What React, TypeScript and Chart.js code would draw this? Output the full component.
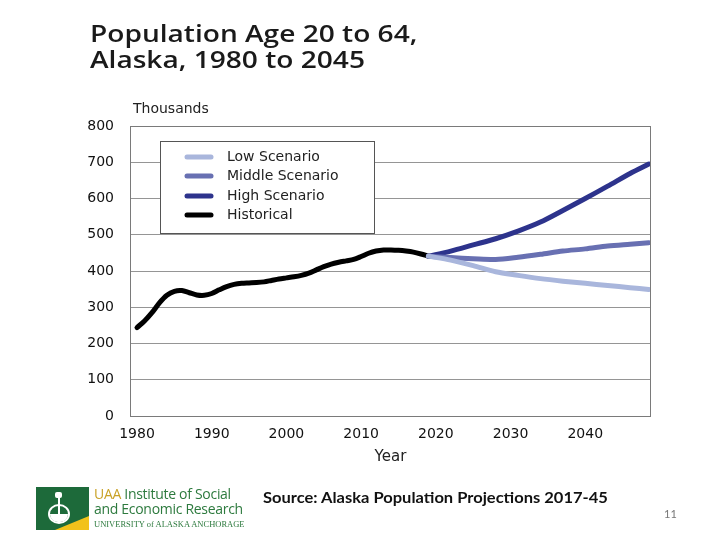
import React, { useEffect, useRef } from "react";
import { Chart, registerables } from "chart.js";

Chart.register(...registerables);

const titleLines = ["Population Age 20 to 64,", "Alaska, 1980 to 2045"];
const yAxisLabel = "Thousands";
const xAxisLabel = "Year";
const xTickValues = [1980, 1990, 2000, 2010, 2020, 2030, 2040];
const seriesNames = ["Low Scenario", "Middle Scenario", "High Scenario", "Historical"];
const seriesColors = ["#a9b6dc", "#6870b2", "#2d338c", "#000000"];

const histYears = [1980, 1981, 1982, 1983, 1984, 1985, 1986, 1987, 1988, 1989, 1990, 1991, 1992, 1993, 1994, 1995, 1996, 1997, 1998, 1999, 2000, 2001, 2002, 2003, 2004, 2005, 2006, 2007, 2008, 2009, 2010, 2011, 2012, 2013, 2014, 2015, 2016, 2017, 2018, 2019];
const histValues = [244, 262, 285, 312, 333, 344, 346, 340, 334, 333, 338, 348, 357, 363, 366, 367, 368, 370, 374, 378, 381, 384, 388, 394, 403, 412, 419, 424, 428, 432, 440, 449, 455, 458, 458, 457, 455, 452, 447, 441];

const projYears = [2019, 2022, 2025, 2028, 2031, 2034, 2037, 2040, 2043, 2046, 2048.5];
const lowValues = [441, 430, 415, 398, 388, 379, 372, 366, 360, 354, 349];
const middleValues = [441, 437, 434, 432, 438, 446, 455, 461, 469, 474, 478];
const highValues = [441, 455, 472, 489, 510, 535, 567, 600, 634, 669, 695];

const chartFont = "'DejaVu Sans', 'Liberation Sans', sans-serif";

const pts = (xs: number[], ys: number[]) => xs.map((x, i) => ({ x, y: ys[i] }));

const framePlugin = {
  id: "frameAndLegend",
  afterDatasetsDraw(chart: any) {
    const { ctx, chartArea } = chart;
    ctx.save();
    ctx.strokeStyle = "#7a7a7a";
    ctx.lineWidth = 1;
    ctx.strokeRect(chartArea.left + 0.5, chartArea.top + 0.5, chartArea.right - chartArea.left - 1, chartArea.bottom - chartArea.top);
    // legend box
    const bx = 160, by = 141, bw = 214, bh = 92;
    ctx.fillStyle = "#ffffff";
    ctx.fillRect(bx, by, bw, bh);
    ctx.strokeStyle = "#555555";
    ctx.strokeRect(bx + 0.5, by + 0.5, bw, bh);
    const rows = [157, 176, 196, 215];
    ctx.font = `14px ${chartFont}`;
    ctx.textBaseline = "middle";
    ctx.textAlign = "left";
    seriesNames.forEach((name, i) => {
      ctx.strokeStyle = seriesColors[i];
      ctx.lineWidth = 5;
      ctx.lineCap = "round";
      ctx.beginPath();
      ctx.moveTo(187, rows[i]);
      ctx.lineTo(211, rows[i]);
      ctx.stroke();
      ctx.fillStyle = "#222222";
      ctx.fillText(name, 227, rows[i]);
    });
    // y-axis unit label
    ctx.font = `14px ${chartFont}`;
    ctx.fillStyle = "#222222";
    ctx.fillText(yAxisLabel, 133, 109);
    ctx.restore();
  },
};

function ChartCanvas() {
  const ref = useRef<HTMLCanvasElement>(null);
  useEffect(() => {
    if (!ref.current) return;
    const lineStyle = (i: number) => ({
      borderColor: seriesColors[i],
      backgroundColor: seriesColors[i],
      borderWidth: 5,
      pointRadius: 0,
      tension: 0.3,
      borderCapStyle: "round" as const,
      borderJoinStyle: "round" as const,
      fill: false,
    });
    const chart = new Chart(ref.current, {
      type: "line",
      data: {
        datasets: [
          { label: seriesNames[0], data: pts(projYears, lowValues), ...lineStyle(0) },
          { label: seriesNames[1], data: pts(projYears, middleValues), ...lineStyle(1) },
          { label: seriesNames[2], data: pts(projYears, highValues), ...lineStyle(2) },
          { label: seriesNames[3], data: pts(histYears, histValues), ...lineStyle(3) },
        ],
      },
      options: {
        animation: false,
        responsive: true,
        maintainAspectRatio: false,
        layout: { padding: { left: 0, right: 69, top: 126, bottom: 64 } },
        plugins: { legend: { display: false }, tooltip: { enabled: false } },
        scales: {
          x: {
            type: "linear",
            min: 1979.06,
            max: 2048.8,
            afterBuildTicks: (scale: any) => {
              scale.ticks = xTickValues.map((v) => ({ value: v }));
            },
            afterFit: (scale: any) => {
              scale.height = 60;
            },
            grid: { display: false, drawTicks: false },
            border: { display: false },
            ticks: {
              padding: 10,
              maxRotation: 0,
              autoSkip: false,
              color: "#111111",
              font: { family: chartFont, size: 14 },
              callback: (v: any) => String(v),
            },
            title: {
              display: true,
              text: xAxisLabel,
              color: "#222222",
              font: { family: chartFont, size: 15 },
              padding: { top: 0, bottom: 10 },
            },
          },
          y: {
            min: 0,
            max: 800,
            afterFit: (scale: any) => {
              scale.width = 130;
            },
            grid: { color: "#959595", lineWidth: 1, drawTicks: false },
            border: { display: true, color: "#7a7a7a" },
            ticks: {
              stepSize: 100,
              padding: 16,
              color: "#111111",
              font: { family: chartFont, size: 14 },
            },
          },
        },
      },
      plugins: [framePlugin],
    });
    return () => chart.destroy();
  }, []);
  return (
    <div style={{ position: "absolute", left: 0, top: 0, width: 720, height: 540 }}>
      <canvas ref={ref} />
    </div>
  );
}

export default function App() {
  return (
    <div style={{ position: "fixed", left: 0, top: 0, width: 720, height: 540, background: "#ffffff", overflow: "hidden" }}>
      <ChartCanvas />
      <div
        style={{
          position: "absolute",
          left: 90,
          top: 20,
          fontFamily: "'Open Sans', sans-serif",
          fontWeight: 600,
          fontSize: 24,
          lineHeight: "26px",
          color: "#1a1a1a",
          transform: "scaleX(1.17)",
          transformOrigin: "left top",
          whiteSpace: "nowrap",
        }}
      >
        {titleLines.map((t) => (
          <div key={t}>{t}</div>
        ))}
      </div>
      {/* logo */}
      <div style={{ position: "absolute", left: 36, top: 487, width: 53, height: 43, background: "#1d6a3a", overflow: "hidden" }}>
        <div
          style={{
            position: "absolute",
            right: 0,
            bottom: 0,
            width: 0,
            height: 0,
            borderLeft: "34px solid transparent",
            borderBottom: "14px solid #f2c21b",
          }}
        />
        <div style={{ position: "absolute", left: 12, top: 17, width: 22, height: 20, borderRadius: "50%", border: "2px solid #ffffff", boxSizing: "border-box" }} />
        <div style={{ position: "absolute", left: 14, top: 27, width: 18, height: 8, borderRadius: "0 0 9px 9px", background: "#ffffff" }} />
        <div style={{ position: "absolute", left: 22, top: 5, width: 2, height: 22, background: "#ffffff" }} />
        <div style={{ position: "absolute", left: 19, top: 5, width: 7, height: 6, background: "#ffffff", borderRadius: 2 }} />
      </div>
      <div style={{ position: "absolute", left: 94, top: 486, fontFamily: "'Open Sans', sans-serif", color: "#2d7a3e", lineHeight: "15px" }}>
        <div style={{ fontSize: 14, letterSpacing: -0.3 }}>
          <span style={{ color: "#c9a227" }}>UAA</span> Institute of Social
        </div>
        <div style={{ fontSize: 14, letterSpacing: -0.3 }}>and Economic Research</div>
        <div style={{ fontSize: 8.5, fontFamily: "'Liberation Serif', serif", letterSpacing: 0, marginTop: 1, whiteSpace: "nowrap" }}>UNIVERSITY of ALASKA ANCHORAGE</div>
      </div>
      <div
        style={{
          position: "absolute",
          left: 263,
          top: 488,
          fontFamily: "Lato, sans-serif",
          fontWeight: 700,
          fontSize: 15,
          color: "#111111",
          whiteSpace: "nowrap",
          transform: "scaleX(1.1)",
          transformOrigin: "left top",
        }}
      >
        Source: Alaska Population Projections 2017-45
      </div>
      <div style={{ position: "absolute", left: 664, top: 507, fontFamily: "Lato, sans-serif", fontSize: 11, color: "#777777" }}>11</div>
    </div>
  );
}
